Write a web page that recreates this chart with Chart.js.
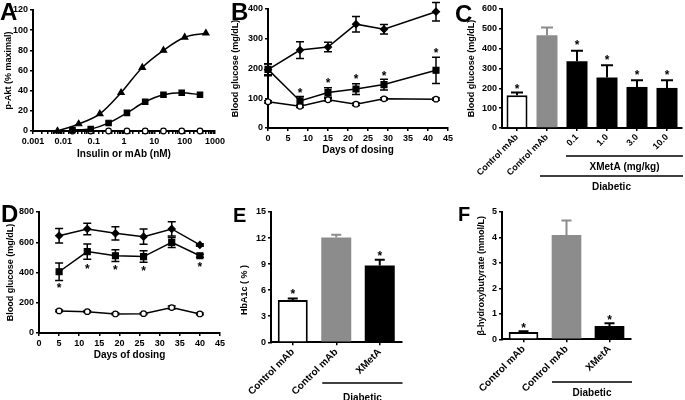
<!DOCTYPE html>
<html>
<head>
<meta charset="utf-8">
<script src="https://cdn.jsdelivr.net/npm/chart.js@4.4.1/dist/chart.umd.min.js"></script>
<style>
  body { margin: 0; background: #fff; }
  #fig { position: relative; width: 685px; height: 400px; overflow: hidden; background: #fff;
         font-family: 'Liberation Sans', Arial, sans-serif; }
  #fig canvas { position: absolute; }
  .tag { position: absolute; font-weight: bold; line-height: 1; color: #000; }
</style>
</head>
<body>
<div id="fig">
  <canvas id="cA" style="left:0;top:0"></canvas>
  <canvas id="cB" style="left:230px;top:0"></canvas>
  <canvas id="cC" style="left:455px;top:0"></canvas>
  <canvas id="cD" style="left:0;top:200px"></canvas>
  <canvas id="cE" style="left:230px;top:200px"></canvas>
  <canvas id="cF" style="left:455px;top:200px"></canvas>
  <div class="tag" style="left:0;top:0;font-size:24px">A</div>
  <div class="tag" style="left:231px;top:0;font-size:24px">B</div>
  <div class="tag" style="left:455px;top:2px;font-size:24px">C</div>
  <div class="tag" style="left:1px;top:202px;font-size:24px">D</div>
  <div class="tag" style="left:233px;top:205px;font-size:20px">E</div>
  <div class="tag" style="left:458px;top:204px;font-size:20px">F</div>
</div>
<script>
// ── Panel A: p-Akt dose response ──
const aInsulinX = [0.0064, 0.032, 0.16, 0.8, 4, 20, 100, 500];
const aInsulinY = [0, 7, 17, 38, 63, 80, 93, 97];
const aXmetaX   = [0.02, 0.08, 0.31, 1.25, 5, 20, 80, 320];
const aXmetaY   = [1, 2, 8, 18, 29, 36, 38, 36];
const aCtrlX    = [0.02, 0.08, 0.31, 1.25, 5, 20, 80, 320];
const aCtrlY    = [0, 0, 0, 0, 0, 0, 0, 0];
const aXTicks   = ['0.001', '0.01', '0.1', '1', '10', '100', '1000'];

// ── Panel B: blood glucose over time ──
const bDays       = [0, 8, 15, 22, 29, 42];
const bDiabCtrl   = [196, 262, 272, 349, 332, 391];
const bDiabErr    = [20, 28, 16, 26, 16, 31];
const bXmeta      = [197, 91, 119, 131, 146, 194];
const bXmetaErr   = [18, 15, 16, 18, 18, 44];
const bNormal     = [88, 73, 95, 80, 98, 97];
const bNormalErr  = [4, 4, 4, 4, 4, 4];
const bStarDays   = [8, 15, 22, 29, 42];
const bStarY      = [129, 161, 174, 185, 262];

// ── Panel C: glucose by dose ──
const cLabels     = ['Control mAb', 'Control mAb', '0.1', '1.0', '3.0', '10.0'];
const cGlucose    = [165, 468, 337, 255, 207, 202];
const cGlucoseErr = [14, 39, 52, 62, 34, 39];
const cStarY      = [211, null, 432, 359, 283, 283];

// ── Panel D: blood glucose over time ──
const dDays       = [5, 12, 19, 26, 33, 40];
const dDiabCtrl   = [643, 688, 659, 637, 688, 582];
const dDiabErr    = [48, 38, 44, 51, 47, 8];
const dXmeta      = [405, 538, 511, 505, 599, 511];
const dXmetaErr   = [58, 50, 39, 38, 33, 10];
const dNormal     = [146, 141, 126, 128, 168, 126];
const dNormalErr  = [6, 6, 6, 6, 10, 6];
const dStarDays   = [5, 12, 19, 26, 40];
const dStarY      = [317, 443, 434, 428, 454];

// ── Panel E: HbA1c ──
const eLabels     = ['Control mAb', 'Control mAb', 'XMetA'];
const eHbA1c      = [4.88, 12.07, 8.84];
const eHbA1cErr   = [0.15, 0.3, 0.66];
const eStarY      = [5.95, null, 10.27];

// ── Panel F: beta-hydroxybutyrate ──
const fLabels     = ['Control mAb', 'Control mAb', 'XMetA'];
const fBhb        = [0.29, 4.1, 0.52];
const fBhbErr     = [0.03, 0.57, 0.11];
const fStarY      = [0.56, null, 0.89];

const $ = id => document.getElementById(id);
const INK = '#000';
const GREY = '#8c8c8c';
const FAMILY = "'Liberation Sans', Arial, sans-serif";
const tickFont  = { family: FAMILY, weight: 'bold', size: 9 };
const titleFont = { family: FAMILY, weight: 'bold', size: 9 };

Chart.defaults.font.family = FAMILY;
Chart.defaults.color = INK;
Chart.defaults.animation = false;
Chart.defaults.events = [];
Chart.defaults.plugins.legend.display = false;
Chart.defaults.plugins.tooltip.enabled = false;

const pts = (xs, ys) => xs.map((x, i) => ({ x, y: ys[i] }));

// ── Plugins ──
const errorBars = {
  id: 'errorBars',
  beforeDatasetsDraw(chart, args, opts) {
    const { ctx } = chart;
    const y = chart.scales.y;
    const cap = (opts.cap || 8) / 2;
    chart.data.datasets.forEach((ds, i) => {
      if (!ds.errors) return;
      chart.getDatasetMeta(i).data.forEach((el, j) => {
        const e = ds.errors[j];
        if (!e) return;
        const raw = ds.data[j];
        const v = typeof raw === 'object' ? raw.y : raw;
        const top = y.getPixelForValue(v + e);
        const bot = y.getPixelForValue(ds.upOnly ? v : v - e);
        ctx.save();
        ctx.strokeStyle = Array.isArray(ds.errColor) ? ds.errColor[j] : (ds.errColor || INK);
        ctx.lineWidth = opts.width || 1.5;
        ctx.beginPath();
        ctx.moveTo(el.x, top); ctx.lineTo(el.x, bot);
        ctx.moveTo(el.x - cap, top); ctx.lineTo(el.x + cap, top);
        if (!ds.upOnly) { ctx.moveTo(el.x - cap, bot); ctx.lineTo(el.x + cap, bot); }
        ctx.stroke();
        ctx.restore();
      });
    });
  }
};

const stars = {
  id: 'stars',
  afterDatasetsDraw(chart, args, opts) {
    if (!opts.ys) return;
    const { ctx, scales: { x, y } } = chart;
    ctx.save();
    ctx.fillStyle = INK;
    ctx.font = 'bold 12px ' + FAMILY;
    ctx.textAlign = 'center';
    ctx.textBaseline = 'alphabetic';
    opts.ys.forEach((v, i) => {
      if (v == null) return;
      const px = x.getPixelForValue(opts.xs ? opts.xs[i] : i);
      ctx.fillText('*', px, y.getPixelForValue(v) + 7);
    });
    ctx.restore();
  }
};

const brackets = {
  id: 'brackets',
  afterDraw(chart, args, opts) {
    if (!opts.items) return;
    const { ctx, chartArea, scales: { x } } = chart;
    opts.items.forEach(b => {
      const x0 = x.getPixelForValue(b.from) + b.dx;
      const x1 = chartArea.right + 1;
      ctx.save();
      ctx.strokeStyle = INK;
      ctx.lineWidth = 1.5;
      ctx.beginPath();
      ctx.moveTo(x0, b.lineY); ctx.lineTo(x1, b.lineY);
      ctx.stroke();
      ctx.fillStyle = INK;
      ctx.font = 'bold 10px ' + FAMILY;
      ctx.textAlign = 'center';
      ctx.textBaseline = 'middle';
      ctx.fillText(b.text, (x0 + x1) / 2, b.textY);
      ctx.restore();
    });
  }
};

// vertical axis title at a free position (used where it is off-centre)
const sideTitle = {
  id: 'sideTitle',
  afterDraw(chart, args, opts) {
    if (!opts.text) return;
    const { ctx } = chart;
    ctx.save();
    ctx.translate(opts.x, opts.y);
    ctx.rotate(-Math.PI / 2);
    ctx.fillStyle = INK;
    ctx.font = 'bold 9px ' + FAMILY;
    ctx.textAlign = 'center';
    ctx.textBaseline = 'middle';
    ctx.fillText(opts.text, 0, 0);
    ctx.restore();
  }
};

Chart.register(errorBars, stars, brackets, sideTitle);

// ── Axis builders ──
const axisBorder = { display: true, color: INK, width: 2 };
const tickMarks  = { display: true, drawOnChartArea: false, drawTicks: true, tickLength: 3, color: INK, lineWidth: 1.5 };

function yScale(min, max, step, title, pad) {
  return {
    min, max,
    border: axisBorder,
    grid: tickMarks,
    ticks: { stepSize: step, font: tickFont, color: INK, padding: 2 },
    title: title
      ? { display: true, text: title, font: titleFont, color: INK, padding: { top: pad, bottom: 0 } }
      : { display: false }
  };
}

function xLinear(min, max, step, title, pad) {
  return {
    type: 'linear', min, max,
    border: axisBorder,
    grid: tickMarks,
    ticks: { stepSize: step, font: tickFont, color: INK, padding: 2, maxRotation: 0, autoSkip: false },
    title: { display: true, text: title, font: Object.assign({}, titleFont, { size: 10 }), color: INK, padding: { top: 0, bottom: pad } }
  };
}

function xCategory(size) {
  return {
    type: 'category', offset: true,
    border: axisBorder,
    grid: Object.assign({}, tickMarks, { offset: false }),
    ticks: { font: Object.assign({}, tickFont, { size }), color: INK, minRotation: 45, maxRotation: 45,
             autoSkip: false, padding: 1 }
  };
}

function lineSet(data, style, radius, open, errors) {
  return {
    data, errors,
    borderColor: INK, borderWidth: 1.5, tension: 0,
    pointStyle: style, pointRadius: radius,
    pointBackgroundColor: open ? '#fff' : INK,
    pointBorderColor: INK, pointBorderWidth: 1.2,
    clip: false
  };
}

// box = canvas size and the chart area inside it
function makeChart(id, box, config) {
  const cv = $(id);
  cv.width = box.w; cv.height = box.h;
  const o = config.options;
  o.responsive = false;
  o.devicePixelRatio = 1;
  o.layout = { padding: { left: 0, top: box.top, right: box.w - box.right, bottom: 0 } };
  o.scales.x.afterFit = s => { s.height = box.h - box.bottom; };
  o.scales.y.afterFit = s => { s.width = box.left; };
  return new Chart(cv, config);
}

// ── A ──
makeChart('cA', { w: 230, h: 200, left: 33, right: 215, top: 10, bottom: 131 }, {
  type: 'line',
  data: {
    datasets: [
      Object.assign(lineSet(pts(aInsulinX, aInsulinY), 'triangle', 3.6, false), { cubicInterpolationMode: 'monotone' }),
      Object.assign(lineSet(pts(aXmetaX, aXmetaY), 'rect', 3.8, false), { cubicInterpolationMode: 'monotone' }),
      lineSet(pts(aCtrlX, aCtrlY), 'circle', 2.8, true)
    ]
  },
  options: {
    scales: {
      x: {
        type: 'logarithmic', min: 0.001, max: 1000,
        border: axisBorder, grid: tickMarks,
        ticks: {
          font: tickFont, color: INK, padding: 2, maxRotation: 0, autoSkip: false,
          callback: v => {
            const l = Math.log10(v);
            return Math.abs(l - Math.round(l)) < 1e-6 ? aXTicks[Math.round(l) + 3] : '';
          }
        },
        title: { display: true, text: 'Insulin or mAb (nM)', font: Object.assign({}, titleFont, { size: 10 }), color: INK, padding: { top: 0, bottom: 40 } }
      },
      y: yScale(0, 120, 20, 'p-Akt (% maximal)', 3)
    }
  }
});

// ── B ──
makeChart('cB', { w: 225, h: 200, left: 38, right: 218, top: 9, bottom: 128 }, {
  type: 'line',
  data: {
    datasets: [
      lineSet(pts(bDays, bDiabCtrl), 'rectRot', 3.5, false, bDiabErr),
      lineSet(pts(bDays, bXmeta), 'rect', 4.2, false, bXmetaErr),
      lineSet(pts(bDays, bNormal), 'circle', 2.8, true, bNormalErr)
    ]
  },
  options: {
    plugins: { errorBars: { cap: 8 }, stars: { xs: bStarDays, ys: bStarY } },
    scales: {
      x: xLinear(0, 45, 5, 'Days of dosing', 44),
      y: yScale(0, 400, 100, 'Blood glucose (mg/dL)', 0)
    }
  }
});

// ── C ──
makeChart('cC', { w: 230, h: 200, left: 47, right: 227, top: 9, bottom: 128 }, {
  type: 'bar',
  data: {
    labels: cLabels,
    datasets: [{
      data: cGlucose, errors: cGlucoseErr, upOnly: true,
      errColor: [INK, GREY, INK, INK, INK, INK],
      backgroundColor: ['#fff', GREY, INK, INK, INK, INK],
      borderColor: INK, borderWidth: [2, 0, 0, 0, 0, 0],
      categoryPercentage: 1, barPercentage: 0.7
    }]
  },
  options: {
    plugins: {
      errorBars: { cap: 12, width: 2 },
      stars: { ys: cStarY },
      brackets: { items: [
        { from: 2, dx: -11, lineY: 156, textY: 167, text: 'XMetA (mg/kg)' },
        { from: 1, dx: -7, lineY: 176, textY: 187, text: 'Diabetic' }
      ] }
    },
    scales: {
      x: xCategory(9),
      y: yScale(0, 600, 100, 'Blood glucose (mg/dL)', 11)
    }
  }
});

// ── D ──
makeChart('cD', { w: 230, h: 200, left: 39, right: 220, top: 12, bottom: 133 }, {
  type: 'line',
  data: {
    datasets: [
      lineSet(pts(dDays, dDiabCtrl), 'rectRot', 3.5, false, dDiabErr),
      lineSet(pts(dDays, dXmeta), 'rect', 4.2, false, dXmetaErr),
      lineSet(pts(dDays, dNormal), 'circle', 2.8, true, dNormalErr)
    ]
  },
  options: {
    plugins: { errorBars: { cap: 8 }, stars: { xs: dStarDays, ys: dStarY } },
    scales: {
      x: xLinear(0, 45, 5, 'Days of dosing', 39),
      y: yScale(0, 800, 200, 'Blood glucose (mg/dL)', 5)
    }
  }
});

// ── E ──
makeChart('cE', { w: 225, h: 200, left: 41, right: 171.5, top: 12, bottom: 142.3 }, {
  type: 'bar',
  data: {
    labels: eLabels,
    datasets: [{
      data: eHbA1c, errors: eHbA1cErr, upOnly: true,
      errColor: [INK, GREY, INK],
      backgroundColor: ['#fff', GREY, INK],
      borderColor: INK, borderWidth: [2, 0, 0],
      categoryPercentage: 1, barPercentage: 0.69
    }]
  },
  options: {
    plugins: {
      errorBars: { cap: 10, width: 2 },
      stars: { ys: eStarY },
      brackets: { items: [{ from: 1, dx: -14, lineY: 183, textY: 198, text: 'Diabetic' }] },
      sideTitle: { text: 'HbA1c ( % )', x: 15, y: 90 }
    },
    scales: {
      x: xCategory(10),
      y: yScale(0, 15, 3, null, 0)
    }
  }
});

// ── F ──
makeChart('cF', { w: 230, h: 200, left: 47, right: 176, top: 12, bottom: 139.3 }, {
  type: 'bar',
  data: {
    labels: fLabels,
    datasets: [{
      data: fBhb, errors: fBhbErr, upOnly: true,
      errColor: [INK, GREY, INK],
      backgroundColor: ['#fff', GREY, INK],
      borderColor: INK, borderWidth: [2, 0, 0],
      categoryPercentage: 1, barPercentage: 0.69
    }]
  },
  options: {
    plugins: {
      errorBars: { cap: 10, width: 2 },
      stars: { ys: fStarY },
      brackets: { items: [{ from: 1, dx: -14.5, lineY: 182, textY: 193, text: 'Diabetic' }] }
    },
    scales: {
      x: xCategory(10),
      y: yScale(0, 5, 1, 'β-hydroxybutyrate (mmol/L)', 21)
    }
  }
});
</script>
</body>
</html>
